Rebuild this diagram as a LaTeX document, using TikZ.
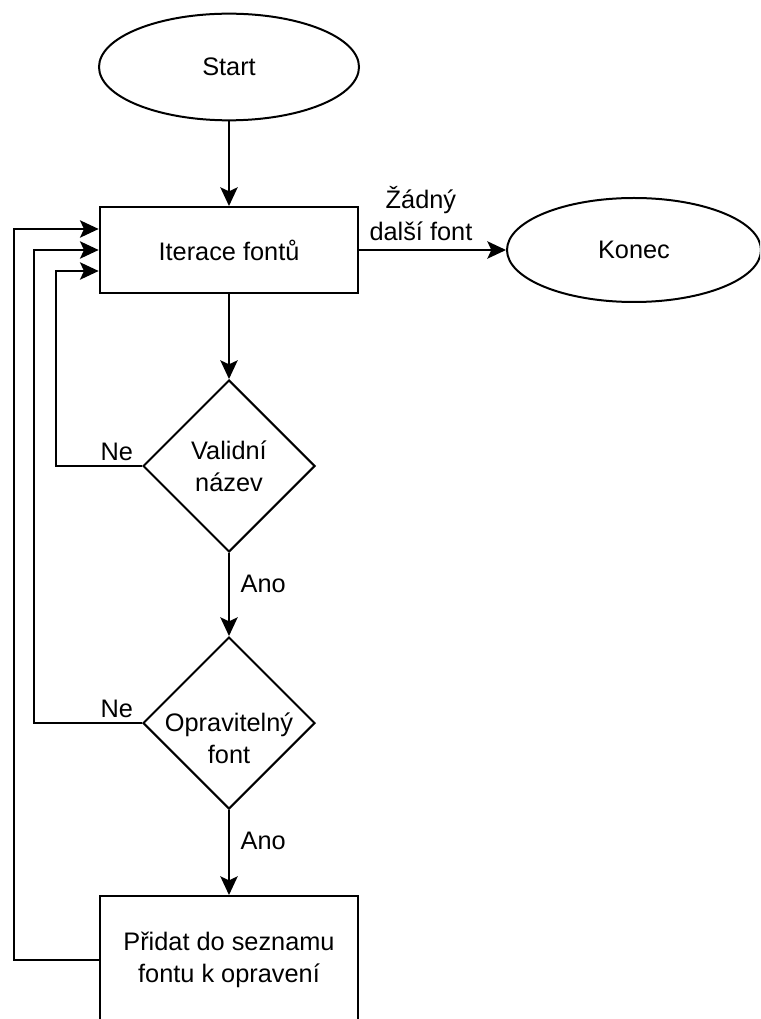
\documentclass[tikz,border=0pt]{standalone}
\usepackage{fontspec}
\setmainfont{Liberation Sans}
\usetikzlibrary{shapes.geometric,arrows.meta,calc}
\begin{document}
\begin{tikzpicture}[x=0.75pt,y=-0.75pt,
        font=\fontsize{19}{24}\selectfont,
        line width=1.5pt,
        term/.style={draw,ellipse,minimum width=195pt,minimum height=80pt,inner sep=0},
        proc/.style={draw,rectangle,minimum width=194pt,minimum height=64.5pt,align=center},
        dec/.style={draw,diamond,minimum width=129pt,minimum height=129pt,inner sep=0},
        txt/.style={align=center,inner sep=0},
        lbl/.style={inner sep=0},
        arr/.style={-{Stealth[length=14pt,width=13pt,inset=3pt]}}]
        \useasboundingbox (0,0) rectangle (760,1019);
        \clip (0,0) rectangle (760,1019);
        \node[term] (start) at (229,67) {Start};
        \node[proc] (iter) at (229,250) {Iterace fontů};
        \node[term,minimum width=190.5pt,minimum height=78pt] (konec) at (634,250) {Konec};
        \node[dec] (valid) at (229,466) {};
        \node[txt] (validt) at (229,466) {Validní\\název};
        \node[dec] (oprav) at (229,723) {};
        \node[txt] (opravt) at (229,738) {Opravitelný\\font};
        \node[proc,minimum height=96pt] (pridat) at (229,960) {Přidat do seznamu\\fontu k opravení};
        \draw[arr] (start) -- (iter);
        \draw[arr] (iter.east) -- node[lbl,pos=0.42,anchor=south,yshift=6pt,align=center] {Žádný\\další font} (iter.east -| konec.west);
        \draw[arr] (iter) -- (valid);
        \draw[arr] (valid) -- node[lbl,pos=0.37,anchor=west,xshift=8pt] {Ano} (oprav);
        \draw[arr] (oprav) -- node[lbl,pos=0.36,anchor=west,xshift=8pt] {Ano} (pridat);
        \draw[arr] (valid.west) node[lbl,anchor=south east,xshift=-6pt,yshift=3pt] {Ne} -- ++(-86,0) |- ($(iter.west)+(0,21)$);
        \draw[arr] (oprav.west) node[lbl,anchor=south east,xshift=-6pt,yshift=3pt] {Ne} -- ++(-108,0) |- (iter.west);
        \draw[arr] (pridat.west) -- ++(-85,0) |- ($(iter.west)+(0,-21)$);
\end{tikzpicture}
\end{document}
